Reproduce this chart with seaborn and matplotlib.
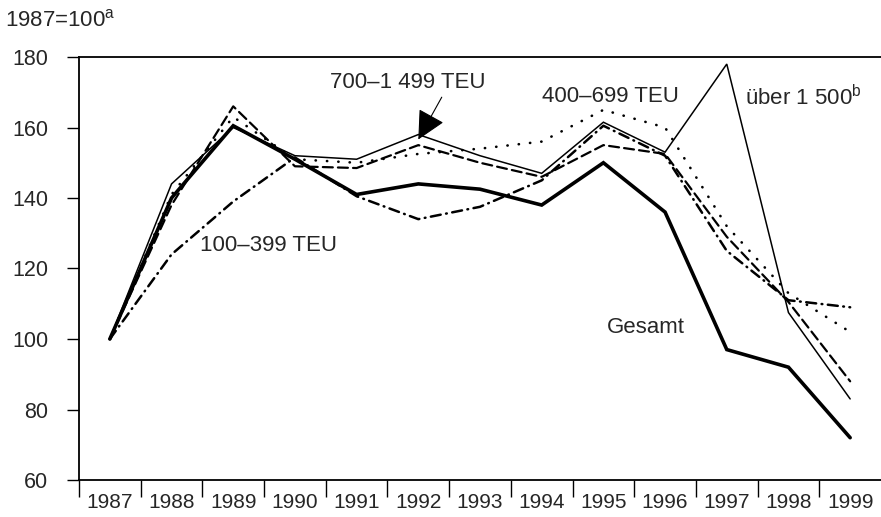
import pandas as pd
import matplotlib
matplotlib.use("Agg")
import matplotlib.pyplot as plt
import seaborn as sns
from matplotlib.ticker import FixedLocator

# Values (index 1987 = 100)
years = list(range(1987, 2000))
gesamt = [100, 140, 160.5, 151, 141, 144, 142.5, 138, 150, 136, 97, 92, 72]
ueber_1500 = [100, 144, 160, 152, 151, 158, 152, 147, 161.5, 153, 178, 107.5, 83]
teu_700_1499 = [100, 138, 166, 149, 148.5, 155, 150, 146, 155, 152.5, 129, 110.5, 88]
teu_400_699 = [100, 141, 163, 151, 150, 152.5, 154, 156, 165, 160, 132, 113, 102]
teu_100_399 = [100, 124, 139, 151.5, 140.5, 134, 137.5, 145, 160.5, 152, 125, 111, 109]

sns.set_style("ticks")
plt.rcParams["font.family"] = ["Liberation Sans", "DejaVu Sans"]
plt.rcParams["mathtext.fontset"] = "custom"
plt.rcParams["mathtext.rm"] = "Liberation Sans"

fig = plt.figure(figsize=(8.81, 5.17), dpi=100)
ax = fig.add_axes([79 / 881, 37 / 517, 802 / 881, 423 / 517])

# series name, values, line width, dash pattern
series = [
    ("Gesamt", gesamt, 2.6, None),
    ("über 1 500", ueber_1500, 1.1, None),
    ("700–1 499 TEU", teu_700_1499, 1.6, (4.5, 2.3)),
    ("400–699 TEU", teu_400_699, 1.9, (0.1, 4.2)),
    ("100–399 TEU", teu_100_399, 1.8, (4.0, 2.2, 0.3, 2.2)),
]

for name, vals, lw, dashes in series:
    df = pd.DataFrame({"Jahr": years, "Index": vals})
    sns.lineplot(data=df, x="Jahr", y="Index", ax=ax, color="black", linewidth=lw)
    l = ax.lines[-1]
    if dashes is not None:
        l.set_dashes(dashes)
        l.set_dash_capstyle("round")
    l.set_solid_joinstyle("miter")

ax.set_xlim(1986.5, 1999.5)
ax.set_ylim(60, 180)
ax.set_yticks(range(60, 181, 20))
ax.set_xticks(years)
ax.xaxis.set_minor_locator(FixedLocator([y - 0.5 for y in years]))
ax.tick_params(axis="x", which="major", length=0, pad=9, labelsize=15)
ax.tick_params(axis="x", which="minor", length=12, width=1.0, direction="out", color="black")
ax.tick_params(axis="y", length=9, width=1.0, pad=13, labelsize=15.5, color="black")
ax.set_xlabel("")
ax.set_ylabel("")

for side in ["left", "bottom", "top"]:
    ax.spines[side].set_color("black")
    ax.spines[side].set_linewidth(1.3)
ax.spines["right"].set_visible(False)

# Labels on the lines
fs = 16
ax.text(1990.57, 172.9, "700–1 499 TEU", fontsize=fs, ha="left", va="center")
ax.text(1994.0, 168.7, "400–699 TEU", fontsize=fs, ha="left", va="center")
ax.text(1997.29, 168.4, "über 1 500$^{\\mathrm{b}}$", fontsize=fs, ha="left", va="center")
ax.text(1988.46, 126.4, "100–399 TEU", fontsize=fs, ha="left", va="center")
ax.text(1995.05, 103.4, "Gesamt", fontsize=fs, ha="left", va="center")

ax.annotate("", xy=(1992.0, 156.6), xytext=(1992.38, 168.6),
            arrowprops=dict(arrowstyle="-|>,head_length=1.0,head_width=0.5",
                            color="black", lw=0.8, mutation_scale=18,
                            shrinkA=0, shrinkB=0))

fig.text(5 / 881, 1 - 20 / 517, "1987=100$^{\\mathrm{a}}$", fontsize=fs,
         ha="left", va="center")

fig.savefig("out.png", dpi=100)
